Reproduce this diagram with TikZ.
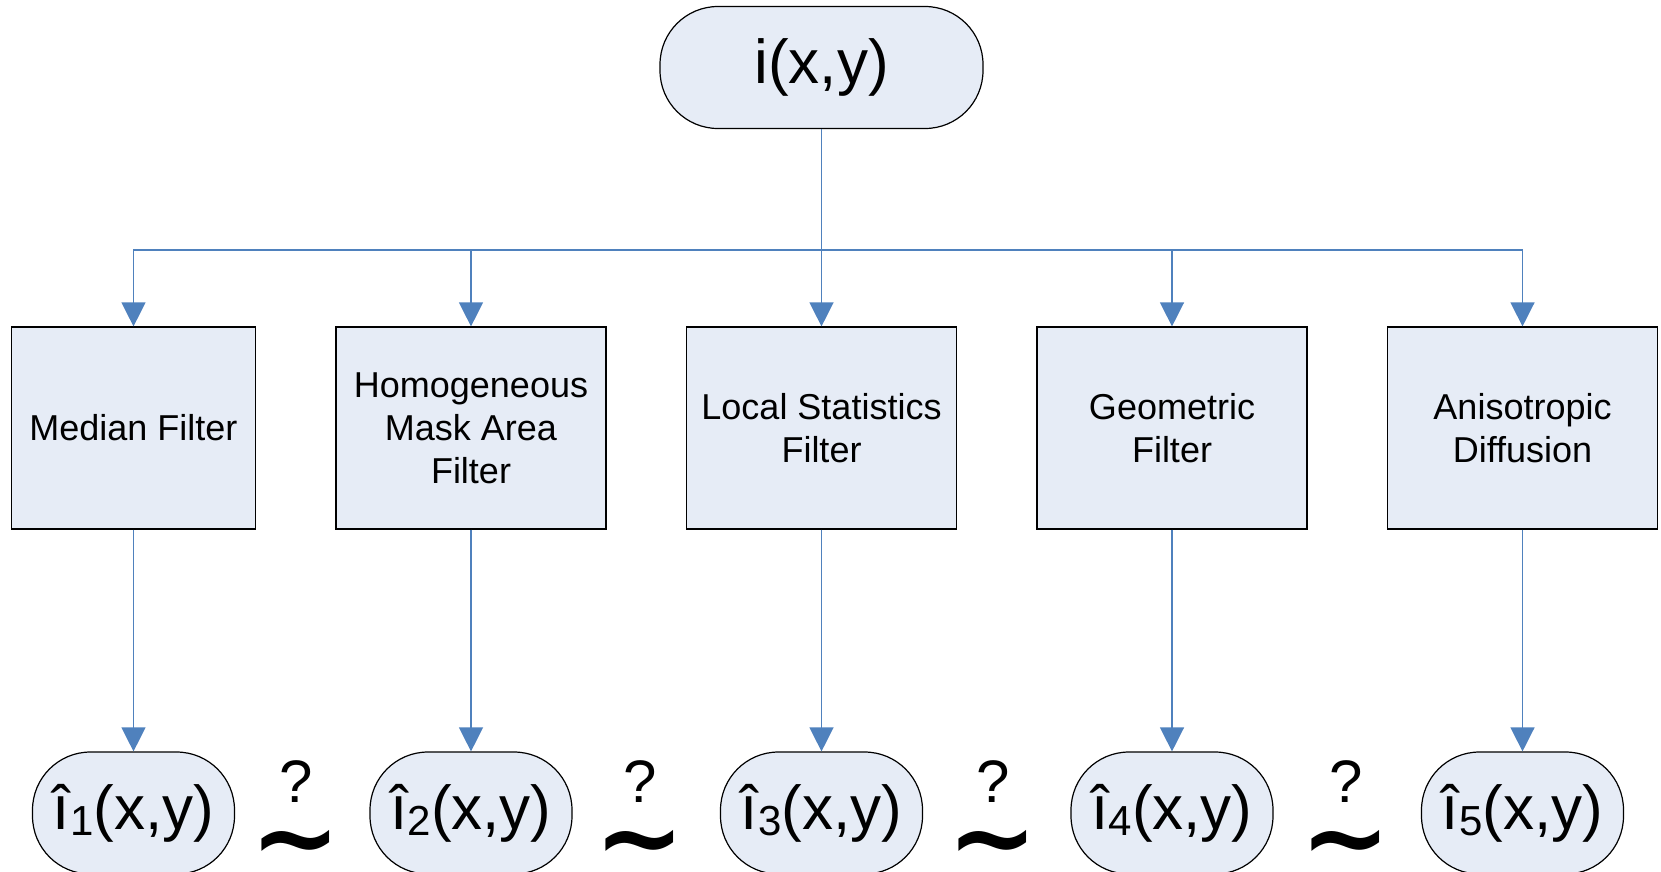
\documentclass[tikz,border=0pt]{standalone}
\usepackage{fontspec}
\setmainfont{Liberation Sans}
\newfontfamily\tildefont{DejaVu Sans}
\usetikzlibrary{arrows.meta}
\definecolor{nodefill}{RGB}{230,236,246}
\definecolor{linkblue}{RGB}{79,129,189}
\newcommand{\boxfont}{\fontsize{36}{43}\selectfont}
\newcommand{\bigfont}{\fontsize{62}{70}\selectfont}
\newcommand{\subd}[1]{\raisebox{-6pt}{\fontsize{42}{42}\selectfont #1}}
\begin{document}
\begin{tikzpicture}[x=1pt,y=-1pt,
  filterbox/.style={draw=black,line width=1.2pt,fill=nodefill,minimum height=202pt,
    inner sep=0pt,align=center,font=\boxfont},
  ovalnode/.style={draw=black,line width=1.2pt,fill=nodefill,rounded corners=58pt,
    minimum height=122pt,inner sep=0pt,font=\bigfont},
  link/.style={draw=linkblue,line width=1.3pt},
  arrowlink/.style={link,-{Triangle[width=24pt,length=24pt,fill=linkblue]}},
  qmark/.style={font=\fontsize{60}{60}\selectfont,inner sep=0pt},
  tildemark/.style={inner sep=0pt,anchor=base,font=\fontsize{80}{80}\tildefont\bfseries}
]
\useasboundingbox (0,0) rectangle (1661,871);

% top node
\node[ovalnode,minimum width=323pt] (top) at (821.5,67.5) {i(x,y)};

% filter boxes
\node[filterbox,minimum width=244pt] (b1) at (133.5,428) {Median Filter};
\node[filterbox,minimum width=270pt] (b2) at (471,428) {Homogeneous\\Mask Area\\Filter};
\node[filterbox,minimum width=270pt] (b3) at (821.5,428) {Local Statistics\\Filter};
\node[filterbox,minimum width=270pt] (b4) at (1172,428) {Geometric\\Filter};
\node[filterbox,minimum width=270pt] (b5) at (1522.5,428) {Anisotropic\\Diffusion};

% result nodes
\node[ovalnode,minimum width=202pt] (r1) at (133.5,813) {î\subd{1}(x,y)};
\node[ovalnode,minimum width=202pt] (r2) at (471,813) {î\subd{2}(x,y)};
\node[ovalnode,minimum width=202pt] (r3) at (821.5,813) {î\subd{3}(x,y)};
\node[ovalnode,minimum width=202pt] (r4) at (1172,813) {î\subd{4}(x,y)};
\node[ovalnode,minimum width=202pt] (r5) at (1522.5,813) {î\subd{5}(x,y)};

% question marks and tildes
\foreach \k/\xx in {1/296,2/640,3/993,4/1346}{
  \node[qmark] (q\k) at (\xx,782) {?};
  \node[tildemark] (t\k) at (\xx,873) {\smash{\scalebox{1.35}[1.3]{\char`\~}}};
}

% bus
\coordinate (bus) at (821.5,250);
\draw[link] (top.south) -- (bus);
\foreach \k in {1,...,5}{
  \draw[arrowlink] (bus) -| (b\k.north);
  \draw[arrowlink] (b\k.south) -- (r\k.north);
}
\end{tikzpicture}
\end{document}
